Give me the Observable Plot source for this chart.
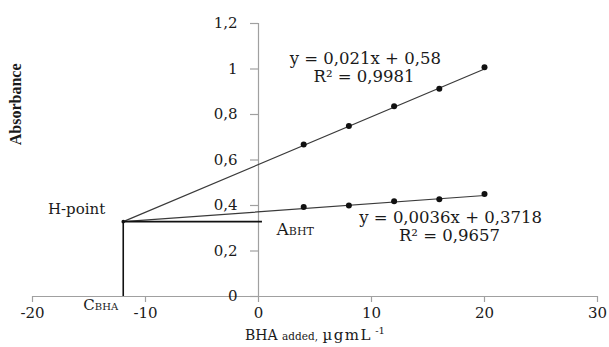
<!DOCTYPE html>
<html><head><meta charset="utf-8">
<script src="https://cdn.jsdelivr.net/npm/d3@7"></script>
<script src="https://cdn.jsdelivr.net/npm/@observablehq/plot@0.6"></script>
<style>body{margin:0;background:#fff}</style>
</head><body><div id="chart"></div>
<script>
// measured data (BHA added, µg/mL vs absorbance)
const addedBHA = [4, 8, 12, 16, 20];
const absUpper = [0.668, 0.749, 0.836, 0.913, 1.008];
const absLower = [0.393, 0.400, 0.419, 0.428, 0.451];
// trend lines from H-point to last standard
const trendX = [-11.97, 20];
const trendUpper = [0.329, 1.0];
const trendLower = [0.329, 0.444];
// H-point and projection lines
const hPointX = [-11.97];
const hPointY = [0.329];
const aBhtEndX = [0.35];
// ticks
const xTicks = [-20, -10, 0, 10, 20, 30];
const yTicks = [0, 0.2, 0.4, 0.6, 0.8, 1, 1.2];
const yTickLabels = ["0", "0,2", "0,4", "0,6", "0,8", "1", "1,2"];
// annotations
const eqUpper = ["y = 0,021x + 0,58", "R² = 0,9981"];
const eqLower = ["y = 0,0036x + 0,3718", "R² = 0,9657"];
const xTitle = "BHA added, µgmL-1";
const yTitle = "Absorbance";

const upperPts = addedBHA.map((x, i) => ({x, y: absUpper[i]}));
const lowerPts = addedBHA.map((x, i) => ({x, y: absLower[i]}));
const upperTrend = trendX.map((x, i) => ({x, y: trendUpper[i]}));
const lowerTrend = trendX.map((x, i) => ({x, y: trendLower[i]}));
const yTickRows = yTicks.map((v, i) => ({v, label: yTickLabels[i]}));

const AX = "#a0a0a0";
const TXT = "#1a1a1a";
const FONT = "DejaVu Serif";

const svg = Plot.plot({
  width: 609,
  height: 347,
  marginLeft: 32,
  marginRight: 12,
  marginTop: 23,
  marginBottom: 51,
  style: {fontFamily: FONT, fontSize: "15px", background: "white", color: TXT},
  x: {domain: [-20, 30], label: null},
  y: {domain: [0, 1.2], axis: null, label: null},
  marks: [
    // axes
    Plot.ruleY([0], {stroke: AX, strokeWidth: 1.2}),
    Plot.ruleX([0], {y1: 0, y2: 1.2, stroke: AX, strokeWidth: 1.2}),
    Plot.ruleY(yTicks, {x1: 0, x2: 0, insetLeft: -8, stroke: AX, strokeWidth: 1.2}),
    Plot.text(yTickRows, {x: 0, y: "v", text: "label", dx: -21, textAnchor: "end", fontSize: 15, fill: TXT}),
    Plot.axisX({ticks: xTicks, tickSize: 6, tickPadding: 5, tickFormat: d => String(d), label: null, stroke: AX, strokeWidth: 1.2, fill: TXT, fontSize: 15}),
    // trend lines
    Plot.line(upperTrend, {x: "x", y: "y", stroke: "#3a3a3a", strokeWidth: 1.2}),
    Plot.line(lowerTrend, {x: "x", y: "y", stroke: "#3a3a3a", strokeWidth: 1.2}),
    // H-point projections
    Plot.ruleY(hPointY, {x1: hPointX[0], x2: aBhtEndX[0], stroke: "#111", strokeWidth: 1.6}),
    Plot.ruleX(hPointX, {y1: 0, y2: hPointY[0], stroke: "#111", strokeWidth: 1.6}),
    Plot.dot(hPointX.map((x, i) => ({x, y: hPointY[i]})), {x: "x", y: "y", r: 1.8, fill: "#111"}),
    // data points
    Plot.dot(upperPts, {x: "x", y: "y", r: 3, fill: "#111"}),
    Plot.dot(lowerPts, {x: "x", y: "y", r: 3, fill: "#111"}),
    // equations
    Plot.text([eqUpper[0]], {x: 9.45, y: 1.047, fontSize: 16.5, fill: TXT}),
    Plot.text([eqUpper[1]], {x: 9.34, y: 0.968, fontSize: 16.5, fill: TXT}),
    Plot.text([eqLower[0]], {x: 17.0, y: 0.345, fontSize: 16.5, fill: TXT}),
    Plot.text([eqLower[1]], {x: 16.9, y: 0.266, fontSize: 16.5, fill: TXT}),
    // labels
    Plot.text(["H-point"], {x: -16.1, y: 0.384, fontSize: 15, fill: TXT}),
    Plot.text(["ABHT"], {x: 1.6, y: 0.295, textAnchor: "start", fontSize: 17, fill: TXT}),
    Plot.text(["CBHA"], {x: -15.5, y: -0.04, textAnchor: "start", fontSize: 15, fill: TXT}),
    // titles
    Plot.text([xTitle], {frameAnchor: "bottom", dy: 43, fontSize: 14, fill: TXT}),
    Plot.text([yTitle], {y: [0.665], frameAnchor: "left", dx: -17, rotate: -90, fontSize: 16, fontWeight: "bold", fontFamily: "Liberation Serif", fill: TXT})
  ]
});

const rich = {
  "ABHT": 'A<tspan font-size="11">BHT</tspan>',
  "CBHA": 'C<tspan font-size="10">BHA</tspan>',
  [xTitle]: 'BHA <tspan font-size="10.5">added,</tspan> <tspan font-size="15" letter-spacing="1.5">µgmL</tspan><tspan font-size="10" dy="-6"> -1</tspan>'
};
svg.querySelectorAll("text").forEach(t => {
  const k = t.textContent;
  if (Object.prototype.hasOwnProperty.call(rich, k)) t.innerHTML = rich[k];
});

document.getElementById("chart").append(svg);
</script>
</body></html>
